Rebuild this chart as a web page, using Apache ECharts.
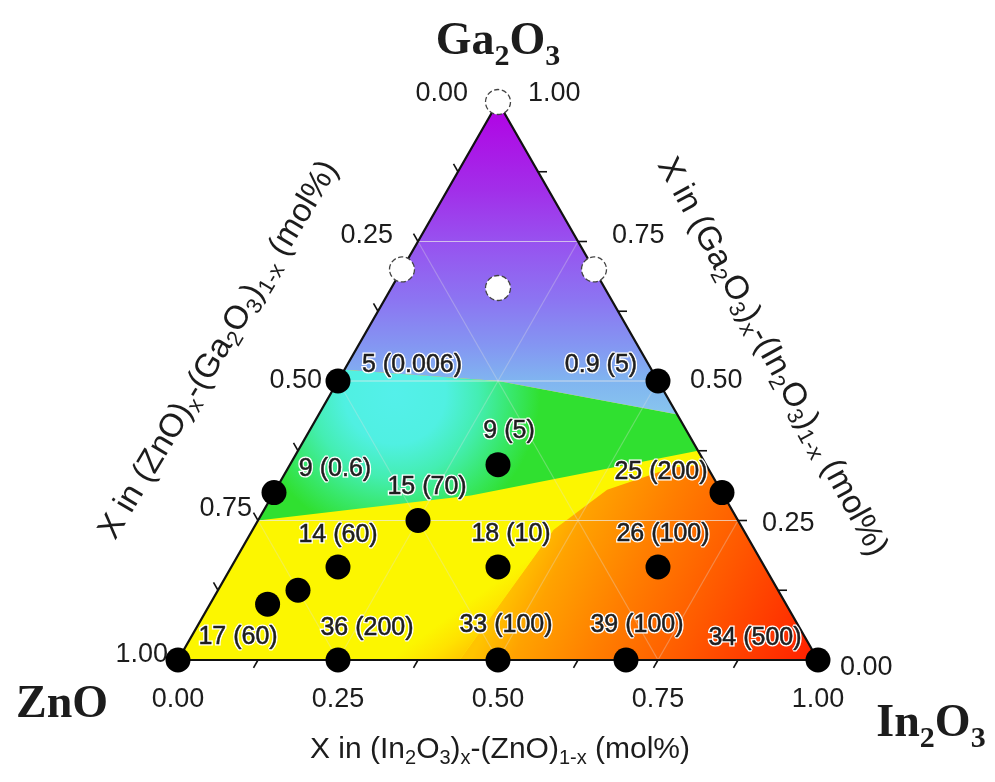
<!DOCTYPE html>
<html>
<head>
<meta charset="utf-8">
<script src="https://cdn.jsdelivr.net/npm/echarts@6/dist/echarts.min.js"></script>
<style>
html, body { margin:0; padding:0; background:#ffffff; }
#chart { width:995px; height:782px; }
</style>
</head>
<body>
<div id="chart"></div>
<script>
// ---------- DATA (compositions as [In2O3 fraction, Ga2O3 fraction]; ZnO = 1 - In2O3 - Ga2O3) ----------
const filledIn = [0, 0.25, 0.5, 0.7, 1, 0, 0.5, 0, 0.7, 0.325, 0.25, 1/6, 5/12, 2/3, 0.125, 0.09];
const filledGa = [0, 0, 0, 0, 0, 0.5, 0.5, 0.3, 0.3, 0.35, 0.25, 1/6, 1/6, 1/6, 0.125, 0.1];
const filledLabels = ['17 (60)', '36 (200)', '33 (100)', '39 (100)', '34 (500)', '5 (0.006)', '0.9 (5)',
  '9 (0.6)', '25 (200)', '9 (5)', '15 (70)', '14 (60)', '18 (10)', '26 (100)', '', ''];
const openIn = [0, 0, 0.3, 1/6];
const openGa = [1, 0.7, 0.7, 2/3];

const tickValues = [0.125, 0.25, 0.375, 0.5, 0.625, 0.75, 0.875];
const gridValues = [0.25, 0.5, 0.75];
const labelValues = [0, 0.25, 0.5, 0.75, 1];
const labelTexts = ['0.00', '0.25', '0.50', '0.75', '1.00'];

// colour band outlines, [In2O3, Ga2O3]
const triangle = [[0, 0], [1, 0], [0, 1]];
const bandViolet = [[0, 1], [0, 0.52], [0.25, 0.50], [0.54, 0.444], [0.56, 0.44]];
const bandCyanGreen = [[0, 0.52], [0.25, 0.50], [0.54, 0.444], [0.56, 0.44], [0.625, 0.375], [0.31, 0.295], [0, 0.25]];
const bandOrange = [[0.44, 0], [0.47, 0.233], [0.518, 0.305], [0.6, 0.345], [0.65, 0.35], [1, 0]];
const bandBlend = [[0.33, 0], [0.47, 0.233], [0.44, 0]];

// ---------- STYLE ----------
const SANS = '"Liberation Sans", Arial, Helvetica, sans-serif';
const SERIF = '"Liberation Serif", "Times New Roman", serif';
const TXT = '#1c1c1c';
const labelOffsets = [[60, -23], [29, -32], [8, -35], [11, -35], [-63, -22], [74, -16], [-57, -16],
  [61, -23], [-61, -20], [11, -34], [9, -33], [0, -32], [13, -33], [5, -33], [0, 0], [0, 0]];

const regions = [
  { pts: triangle, g: [[0, 0.3], [0, 0.2]],
    stops: [[0, '#fcf600'], [1, '#fcf600']] },
  { pts: bandOrange, g: [[0.44, 0.25], [1, 0]],
    stops: [[0, '#ffc400'], [0.12, '#ffa200'], [0.35, '#ff7e00'], [0.6, '#ff5a00'], [0.85, '#ff3400'], [1, '#ff1e00']] },
  { pts: bandBlend, g: [[0.33, 0], [0.405, -0.066]],
    stops: [[0, '#fcf600'], [0.5, '#ffe200'], [1, '#ffc400']] },
  { pts: bandCyanGreen, radial: [0.1, 0.478], r: 145,
    stops: [[0, '#54f0ea'], [0.35, '#50f0e2'], [0.58, '#44eeb2'], [0.8, '#38e86c'], [1, '#30e030']] },
  { pts: bandViolet, g: [[0, 1], [0.28, 0.44]],
    stops: [[0, '#b200e4'], [0.28, '#a22ee9'], [0.44, '#9850ef'], [0.63, '#8c74f2'], [0.78, '#8496f2'], [0.89, '#80b4f0'], [1, '#88c6ee']] }
];

const toXY = (t) => [t[0] + t[1] / 2, t[1]];

const axes = [
  { edge: (v) => [v, 0], dir: [-0.5, 0.866], align: 'center',           // bottom: In2O3
    lab: [[0, 40], [0, 40], [0, 40], [0, 40], [0, 40]] },
  { edge: (v) => [1 - v, v], dir: [1, 0], align: 'left',                 // right: Ga2O3
    lab: [[22, 8], [24, 3], [32, 0], [34, -6], [30, -8]] },
  { edge: (v) => [0, 1 - v], dir: [-0.5, -0.866], align: 'right',        // left: ZnO
    lab: [[-30, -8], [-25, -6], [-16, 0], [-6, -12], [-10, -5]] }
];
const gridSeg = [
  (v) => [[v, 0], [v, 1 - v]],
  (v) => [[0, v], [1 - v, v]],
  (v) => [[0, 1 - v], [1 - v, 0]]
];

const chart = echarts.init(document.getElementById('chart'), null, { renderer: 'canvas' });

function richTitle(fs, sfs, pad, family, weight) {
  return {
    n: { fontSize: fs, fontFamily: family, fontWeight: weight, fill: TXT },
    s: { fontSize: sfs, fontFamily: family, fontWeight: weight, fill: TXT, padding: [pad, 0, 0, 0] }
  };
}
function textEl(x, y, rot, text, rich) {
  return {
    type: 'text', x: x, y: y, rotation: rot, z: 50,
    style: { text: text, rich: rich, align: 'center', verticalAlign: 'middle',
             textAlign: 'center', textVerticalAlign: 'middle', fill: TXT }
  };
}
const deg = Math.PI / 180;
const gridItems = gridValues.flatMap((v) => [[0, v], [1, v], [2, v]]);
const tickItems = axes.flatMap((ax, i) => tickValues.map((v) => [i, v]));
const labelItems = axes.flatMap((ax, i) => labelValues.map((v, j) => [i, j]));
const pointXY = filledIn.map((v, i) => toXY([v, filledGa[i]]));

function pointLabel(halo) {
  return function (params, api) {
    const i = params.dataIndex;
    if (!filledLabels[i]) return null;
    const p = api.coord(pointXY[i]);
    const off = labelOffsets[i];
    const st = { text: filledLabels[i], fontSize: 25, fontFamily: SANS, align: 'center', verticalAlign: 'middle' };
    if (halo) { st.fill = '#ffffff'; st.stroke = '#ffffff'; st.lineWidth = 3.2; st.lineJoin = 'round'; }
    else { st.fill = '#1e1e1e'; st.stroke = '#1e1e1e'; st.lineWidth = 0.5; }
    return { type: 'text', x: p[0] + off[0], y: p[1] + off[1], style: st };
  };
}

const option = {
  animation: false,
  backgroundColor: '#ffffff',
  grid: { left: 178, top: 102, width: 640, height: 558 },
  xAxis: { type: 'value', min: 0, max: 1, show: false },
  yAxis: { type: 'value', min: 0, max: 1, show: false },
  graphic: [
    textEl(500, 750, 0, '{n|X in (In}{s|2}{n|O}{s|3}{n|)}{s|x}{n|-(ZnO)}{s|1-x}{n| (mol%)}', richTitle(30, 20, 17, SANS, 'normal')),
    textEl(219, 350, 59 * deg, '{n|X in (ZnO)}{s|x}{n|-(Ga}{s|2}{n|O}{s|3}{n|)}{s|1-x}{n| (mol%)}', richTitle(33, 22, 18, SANS, 'normal')),
    textEl(772, 357, -61.5 * deg, '{n|X in (Ga}{s|2}{n|O}{s|3}{n|)}{s|x}{n|-(In}{s|2}{n|O}{s|3}{n|)}{s|1-x}{n| (mol%)}', richTitle(33, 22, 18, SANS, 'normal')),
    textEl(498, 42, 0, '{n|Ga}{s|2}{n|O}{s|3}', richTitle(46, 30, 30, SERIF, 'bold')),
    textEl(62, 705, 0, '{n|ZnO}', richTitle(46, 30, 30, SERIF, 'bold')),
    textEl(931, 724, 0, '{n|In}{s|2}{n|O}{s|3}', richTitle(46, 30, 30, SERIF, 'bold'))
  ],
  series: [
    { // colour field
      type: 'custom', z: 1, silent: true,
      data: regions.map((r, i) => [i, 0]),
      renderItem: function (params, api) {
        const r = regions[params.dataIndex];
        const pts = r.pts.map((p) => api.coord(toXY(p)));
        const stops = r.stops.map((s) => ({ offset: s[0], color: s[1] }));
        let fill;
        if (r.radial) {
          const c = api.coord(toXY(r.radial));
          fill = new echarts.graphic.RadialGradient(c[0], c[1], r.r, stops, true);
        } else {
          const a = api.coord(toXY(r.g[0])), b = api.coord(toXY(r.g[1]));
          fill = new echarts.graphic.LinearGradient(a[0], a[1], b[0], b[1], stops, true);
        }
        return { type: 'polygon', shape: { points: pts }, style: { fill: fill } };
      }
    },
    { // grid lines
      type: 'custom', z: 2, silent: true,
      data: gridItems,
      renderItem: function (params, api) {
        const d = gridItems[params.dataIndex];
        const seg = gridSeg[d[0]](d[1]).map((p) => api.coord(toXY(p)));
        const horiz = d[0] === 1;
        return { type: 'line', shape: { x1: seg[0][0], y1: seg[0][1], x2: seg[1][0], y2: seg[1][1] },
                 style: { stroke: horiz ? 'rgba(235,235,235,0.7)' : 'rgba(225,225,225,0.32)', lineWidth: 1.2 } };
      }
    },
    { // outline
      type: 'custom', z: 3, silent: true,
      data: [[0, 0]],
      renderItem: function (params, api) {
        return { type: 'polygon', shape: { points: triangle.map((p) => api.coord(toXY(p))) },
                 style: { fill: 'none', stroke: '#111', lineWidth: 2.2, lineJoin: 'miter' } };
      }
    },
    { // ticks
      type: 'custom', z: 3, silent: true,
      data: tickItems,
      renderItem: function (params, api) {
        const d = tickItems[params.dataIndex];
        const ax = axes[d[0]];
        const p = api.coord(toXY(ax.edge(d[1])));
        const L = 9;
        return { type: 'line', shape: { x1: p[0], y1: p[1], x2: p[0] + ax.dir[0] * L, y2: p[1] + ax.dir[1] * L },
                 style: { stroke: '#111', lineWidth: 1.6 } };
      }
    },
    { // axis tick labels
      type: 'custom', z: 4, silent: true,
      data: labelItems,
      renderItem: function (params, api) {
        const d = labelItems[params.dataIndex];
        const ax = axes[d[0]];
        const p = api.coord(toXY(ax.edge(labelValues[d[1]])));
        const off = ax.lab[d[1]];
        return { type: 'text', x: p[0] + off[0], y: p[1] + off[1],
                 style: { text: labelTexts[d[1]], fontSize: 27, fontFamily: SANS, fill: TXT,
                          align: ax.align, verticalAlign: 'middle' } };
      }
    },
    { // open (white) points
      type: 'scatter', z: 6, symbol: 'circle', symbolSize: 25, clip: false, silent: true,
      itemStyle: { color: '#ffffff', borderColor: '#444', borderWidth: 1.3, borderType: 'dashed', opacity: 1 },
      data: openIn.map((v, i) => toXY([v, openGa[i]]))
    },
    { // filled (black) points
      type: 'scatter', z: 7, symbol: 'circle', symbolSize: 25, clip: false, silent: true,
      itemStyle: { color: '#000000', opacity: 1 },
      data: pointXY
    },
    { // label halos
      type: 'custom', z: 8, silent: true, data: pointXY, renderItem: pointLabel(true)
    },
    { // label text
      type: 'custom', z: 9, silent: true, data: pointXY, renderItem: pointLabel(false)
    }
  ]
};
chart.setOption(option);
</script>
</body>
</html>
